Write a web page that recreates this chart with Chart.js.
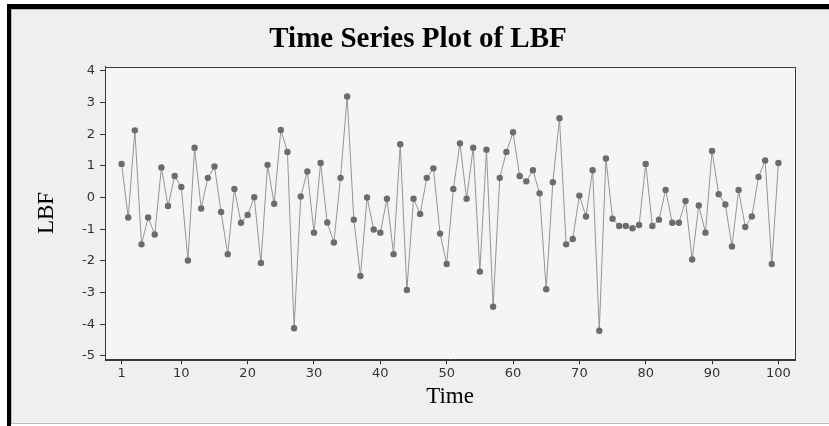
<!DOCTYPE html>
<html><head><meta charset="utf-8">
<script src="https://cdn.jsdelivr.net/npm/chart.js@4.4.1/dist/chart.umd.min.js"></script>
<style>
html,body{margin:0;padding:0;background:#fff;width:829px;height:426px;overflow:hidden}
#wrap{position:absolute;left:7px;top:4px;width:822px;height:422px}
canvas{display:block}
</style></head><body>
<div id="wrap"><canvas id="c" width="822" height="422"></canvas></div>
<script>
const chartTitle = 'Time Series Plot of LBF';
const xTitle = 'Time';
const yTitle = 'LBF';
const lbf = [
  1.06,-0.63,2.12,-1.48,-0.63,-1.17,0.95,-0.27,0.68,0.33,
  -1.99,1.57,-0.35,0.62,0.98,-0.46,-1.79,0.27,-0.80,-0.55,
  0.01,-2.07,1.03,-0.20,2.13,1.44,-4.13,0.03,0.82,-1.11,
  1.09,-0.79,-1.42,0.62,3.19,-0.70,-2.48,0.00,-1.01,-1.11,
  -0.04,-1.79,1.68,-2.92,-0.04,-0.52,0.62,0.92,-1.14,-2.10,
  0.27,1.71,-0.04,1.57,-2.34,1.51,-3.45,0.62,1.44,2.06,
  0.68,0.51,0.86,0.13,-2.90,0.48,2.50,-1.48,-1.31,0.06,
  -0.60,0.86,-4.21,1.23,-0.67,-0.90,-0.90,-0.97,-0.87,1.06,
  -0.90,-0.70,0.24,-0.80,-0.80,-0.11,-1.96,-0.25,-1.11,1.47,
  0.10,-0.22,-1.55,0.24,-0.93,-0.60,0.65,1.17,-2.10,1.09
];
const xTicks = [1,10,20,30,40,50,60,70,80,90,100];
const yTicks = [-5,-4,-3,-2,-1,0,1,2,3,4];

const points = lbf.map((v,i)=>({x:i+1,y:v}));

const framePlugin = {
  id:'frame',
  beforeDraw(chart){
    const {ctx,width,height,chartArea:a} = chart;
    ctx.save();
    ctx.fillStyle='#efefef';
    ctx.fillRect(0,0,width,height);
    ctx.fillStyle='#f5f5f5';
    ctx.fillRect(a.left,a.top,a.right-a.left,a.bottom-a.top);
    ctx.fillStyle='#000';
    ctx.fillRect(0,0,width,5);
    ctx.fillRect(0,0,4,height);
    ctx.strokeStyle='#b8b8b8';
    ctx.lineWidth=1;
    ctx.beginPath();
    ctx.moveTo(4.5,5); ctx.lineTo(4.5,height-2);
    ctx.moveTo(4,5.5); ctx.lineTo(width,5.5);
    ctx.moveTo(4,height-2.5); ctx.lineTo(width,height-2.5);
    ctx.stroke();
    ctx.fillStyle='#fff';
    ctx.fillRect(4,height-2,width,2);
    ctx.restore();
  },
  beforeDatasetsDraw(chart){
    const {ctx,chartArea:a} = chart;
    ctx.save();
    ctx.strokeStyle='#3a3a3a';
    ctx.lineWidth=1;
    ctx.strokeRect(Math.round(a.left)+0.5,Math.round(a.top)+0.5,Math.round(a.right-a.left),Math.round(a.bottom-a.top));
    ctx.restore();
  }
};

new Chart(document.getElementById('c'),{
  type:'line',
  data:{datasets:[{
    data:points,
    yAxisID:'y',
    borderColor:'#959595',
    borderWidth:1,
    pointRadius:3.2,
    pointBackgroundColor:'#6c6c6c',
    pointBorderWidth:0,
    tension:0,
    fill:false
  }]},
  options:{
    responsive:false,
    animation:false,
    devicePixelRatio:1,
    layout:{padding:{left:0,right:0,top:0,bottom:0}},
    plugins:{
      legend:{display:false},
      tooltip:{enabled:false},
      title:{display:true,text:chartTitle,color:'#000',
        font:{family:'Liberation Serif',size:29,weight:'bold',lineHeight:1.2},
        padding:{top:36-17.4,bottom:62.7-(36-17.4)-34.8}}
    },
    scales:{
      x:{
        type:'linear',min:-1.5,max:102.5,
        afterBuildTicks:s=>{s.ticks=xTicks.map(v=>({value:v}));},
        afterFit:s=>{s.height=66.7;},
        grid:{drawOnChartArea:false,tickLength:5,color:'#333',tickColor:'#333'},
        border:{color:'#3a3a3a',width:1},
        ticks:{font:{family:'DejaVu Sans',size:13},color:'#333',padding:2,maxRotation:0,autoSkip:false},
        title:{display:true,text:xTitle,color:'#000',font:{family:'Liberation Serif',size:23},padding:{top:0,bottom:15}}
      },
      y:{
        type:'linear',position:'left',min:-5.11,max:4.13,
        afterBuildTicks:s=>{s.ticks=yTicks.map(v=>({value:v}));},
        afterFit:s=>{s.width=98;},
        grid:{drawOnChartArea:false,tickLength:5,color:'#333',tickColor:'#333'},
        border:{color:'#3a3a3a',width:1},
        ticks:{font:{family:'DejaVu Sans',size:13},color:'#333',padding:5},
        title:{display:true,text:yTitle,color:'#000',font:{family:'Liberation Serif',size:23},padding:{top:26,bottom:0}}
      },
      yRight:{
        type:'linear',position:'right',min:-5.11,max:4.13,
        afterFit:s=>{s.width=34;},
        grid:{display:false,drawOnChartArea:false,drawTicks:false},
        border:{display:false},
        ticks:{display:false}
      }
    }
  },
  plugins:[framePlugin]
});
</script>
</body></html>
